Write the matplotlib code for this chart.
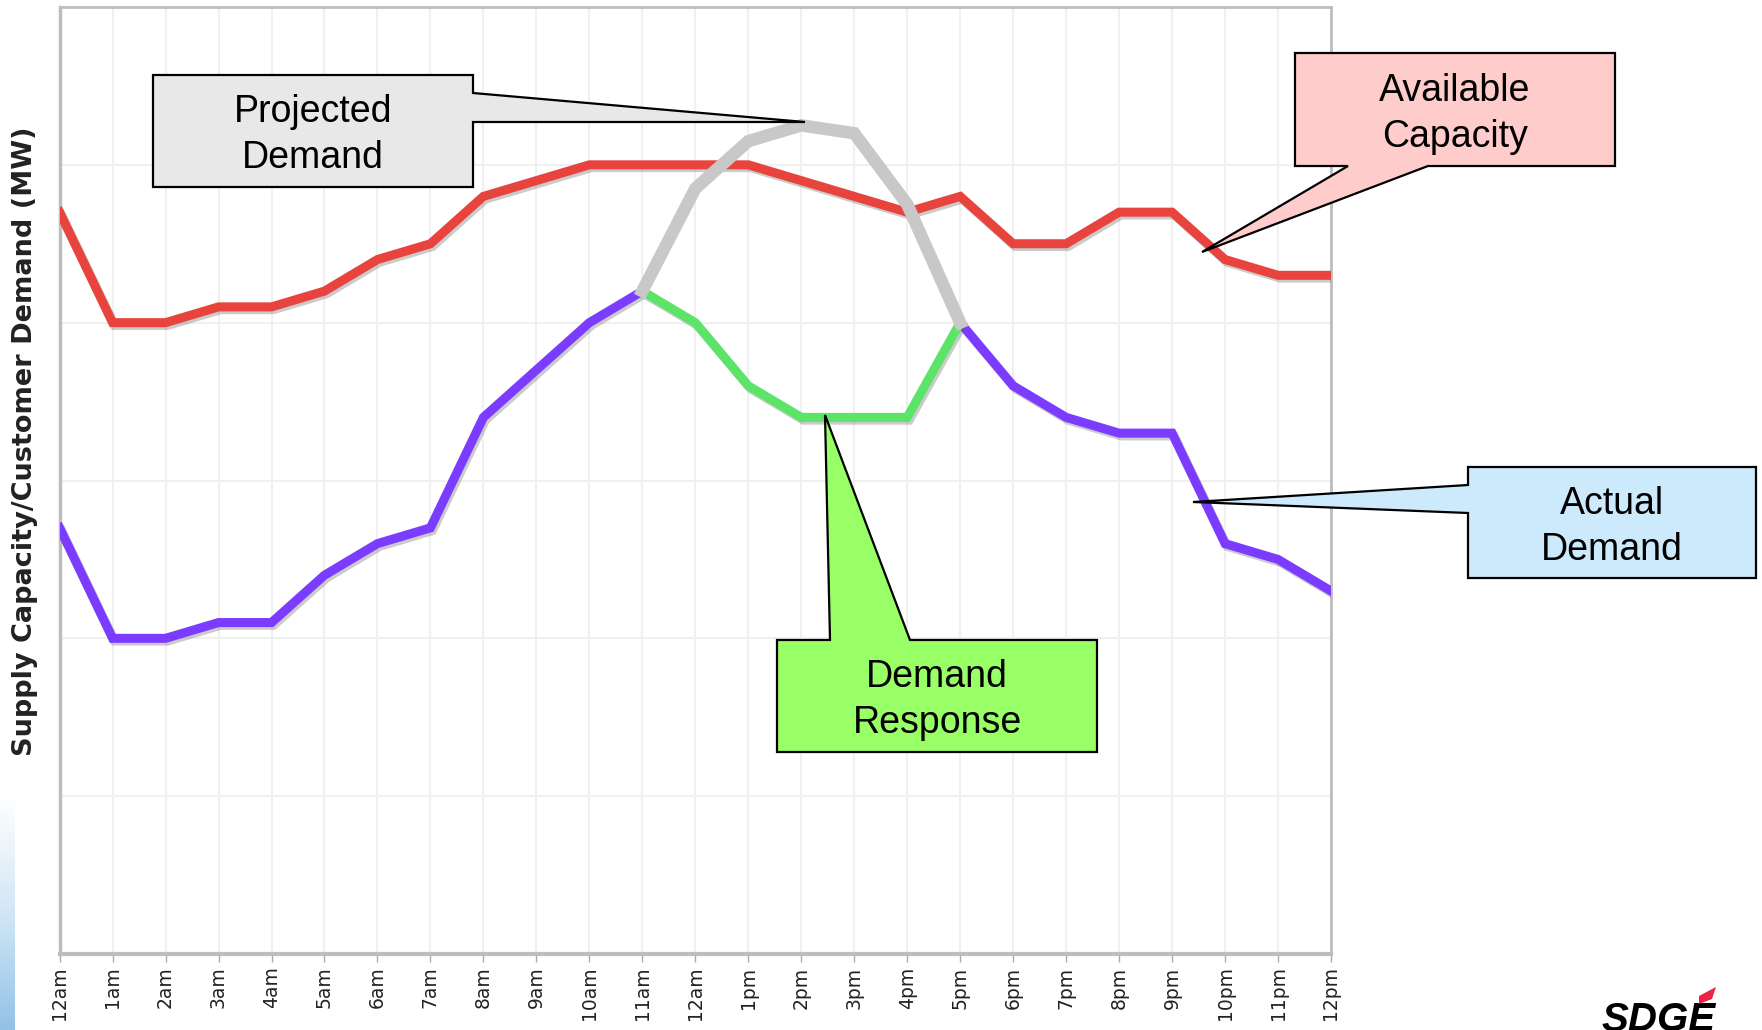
import matplotlib
matplotlib.use("Agg")
import matplotlib.pyplot as plt, numpy as np
import matplotlib.patheffects as pe
from matplotlib.patches import Polygon

W, H = 1762, 1030

hours = np.arange(25)
tick_labels = ["12am", "1am", "2am", "3am", "4am", "5am", "6am", "7am", "8am", "9am", "10am", "11am",
               "12am", "1pm", "2pm", "3pm", "4pm", "5pm", "6pm", "7pm", "8pm", "9pm", "10pm", "11pm", "12pm"]

capacity = [4.7, 4.0, 4.0, 4.1, 4.1, 4.2, 4.4, 4.5, 4.8, 4.9, 5.0, 5.0, 5.0,
            5.0, 4.9, 4.8, 4.7, 4.8, 4.5, 4.5, 4.7, 4.7, 4.4, 4.3, 4.3]
actual_am_hours = np.arange(0, 12)
actual_am = [2.7, 2.0, 2.0, 2.1, 2.1, 2.4, 2.6, 2.7, 3.4, 3.7, 4.0, 4.2]
actual_pm_hours = np.arange(17, 25)
actual_pm = [4.0, 3.6, 3.4, 3.3, 3.3, 2.6, 2.5, 2.3]
peak_hours = np.arange(11, 18)
response = [4.2, 4.0, 3.6, 3.4, 3.4, 3.4, 4.0]
projected = [4.2, 4.85, 5.15, 5.25, 5.2, 4.75, 4.0]


def fp(x, y):
    # pixel (from top-left) -> figure fraction
    return (x / W, 1 - y / H)


fig = plt.figure(figsize=(W / 100, H / 100), dpi=100)
ax = fig.add_axes([59.6 / W, 1 - 954 / H, (1331 - 59.6) / W, (954 - 7) / H])

shadow = [pe.SimpleLineShadow(offset=(1.5, -2), shadow_color="#555555", alpha=0.3), pe.Normal()]
lw = 6.5
ax.plot(hours, capacity, color="#e8433c", lw=lw, solid_joinstyle="miter", path_effects=shadow, zorder=3)
ax.plot(actual_am_hours, actual_am, color="#7b3cff", lw=lw, solid_joinstyle="miter", path_effects=shadow, zorder=3)
ax.plot(actual_pm_hours, actual_pm, color="#7b3cff", lw=lw, solid_joinstyle="miter", path_effects=shadow, zorder=3)
ax.plot(peak_hours, response, color="#5ce468", lw=lw, solid_joinstyle="miter", path_effects=shadow, zorder=4)
ax.plot(peak_hours, projected, color="#c8c8c8", lw=lw + 2.5, solid_joinstyle="miter", zorder=5)

ax.set_xlim(0, 24)
ax.set_ylim(0, 6)
ax.set_xticks(hours)
ax.set_xticklabels(tick_labels, rotation=90, fontsize=13.5, color="#222222", family="DejaVu Sans")
ax.set_yticks(np.arange(0, 7))
ax.set_yticklabels([])
ax.tick_params(axis="y", length=0)
ax.tick_params(axis="x", length=6, width=1, color="#aaaaaa", pad=3)
ax.grid(True, color="#f0f0f0", lw=1.5)
ax.set_axisbelow(True)
for s in ax.spines.values():
    s.set_color("#bdbdbd")
    s.set_linewidth(2)
ax.spines["bottom"].set_linewidth(3)
ax.spines["left"].set_linewidth(2.5)

fig.text(25 / W, 1 - 441 / H, "Supply Capacity/Customer Demand (MW)", rotation=90, ha="center", va="center",
         fontsize=19.5, fontweight="bold", color="#222222", family="DejaVu Sans")

# callouts: (box, pointer polygon in pixels), fill, text
callouts = [
    ([(153, 75), (473, 75), (473, 93), (805, 122), (473, 122), (473, 187), (153, 187)],
     "#e8e8e8", (313, 135), "Projected\nDemand"),
    ([(1295, 53), (1615, 53), (1615, 166), (1428, 166), (1202, 252), (1348, 166), (1295, 166)],
     "#ffcccc", (1455, 114), "Available\nCapacity"),
    ([(1468, 467), (1756, 467), (1756, 578), (1468, 578), (1468, 513), (1193, 502), (1468, 485)],
     "#cceafc", (1612, 527), "Actual\nDemand"),
    ([(777, 640), (830, 640), (825, 415), (910, 640), (1097, 640), (1097, 752), (777, 752)],
     "#99ff66", (937, 700), "Demand\nResponse"),
]
for pts, fill, center, label in callouts:
    poly = Polygon([fp(x, y) for x, y in pts], closed=True, transform=fig.transFigure,
                   facecolor=fill, edgecolor="black", lw=1.6, zorder=10)
    fig.add_artist(poly)
    fig.text(*fp(*center), label, ha="center", va="center", fontsize=27, family="Liberation Sans",
             color="black", linespacing=1.33, zorder=11)

# blue decoration at the left edge
deco = fig.add_axes([0, 0, 15 / W, 235 / H])
grad = np.linspace(0, 1, 100)[:, None]
deco.imshow(grad, aspect="auto", cmap=matplotlib.colors.LinearSegmentedColormap.from_list(
    "b", ["#ffffff", "#d2e7f5", "#92c2e8"]), origin="upper", extent=(0, 1, 0, 1))
deco.axis("off")

# logo
fig.text(1601 / W, 1 - 1001 / H, "SDGE", ha="left", va="top", fontsize=29, fontweight="bold",
         fontstyle="italic", family="Liberation Sans", color="black")
fig.add_artist(Polygon([fp(1699, 996), fp(1716, 987), fp(1712, 999), fp(1699, 1004)], closed=True,
                       transform=fig.transFigure, facecolor="#ee2244", edgecolor="none", zorder=11))

fig.savefig("out.png", dpi=100)
